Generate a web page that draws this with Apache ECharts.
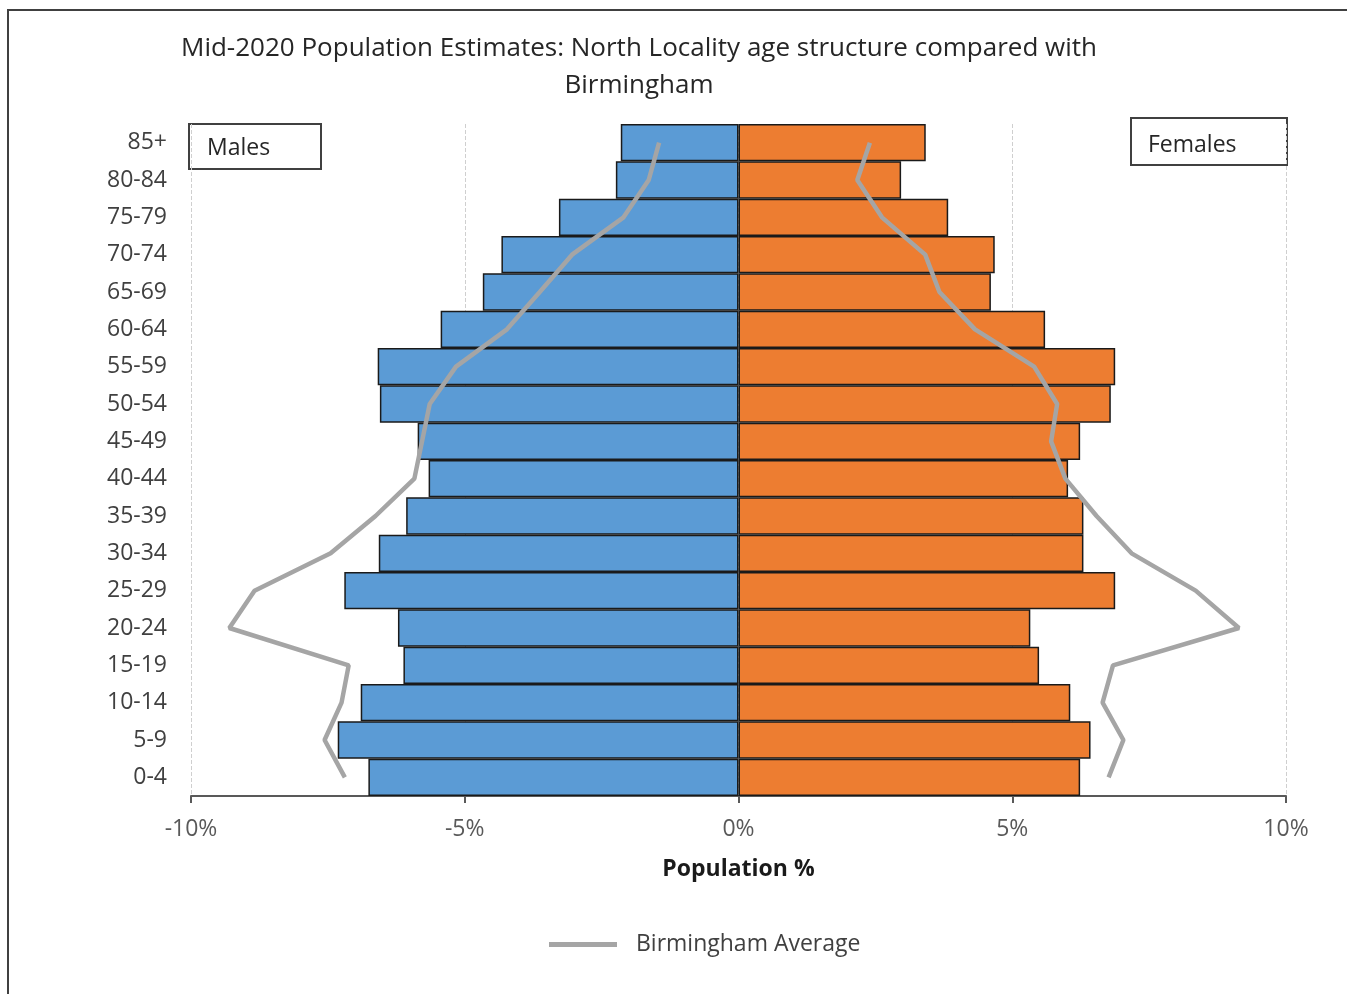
<!DOCTYPE html>
<html>
<head>
<meta charset="utf-8">
<title>North Locality age structure</title>
<script src="https://cdn.jsdelivr.net/npm/echarts@6/dist/echarts.min.js"></script>
<style>
  html, body { margin: 0; padding: 0; background: #fff; }
  #chart { width: 1347px; height: 994px; }
</style>
</head>
<body>
<div id="chart"></div>
<script>
// age bands, bottom to top
const ageBands = ['0-4', '5-9', '10-14', '15-19', '20-24', '25-29', '30-34', '35-39', '40-44',
  '45-49', '50-54', '55-59', '60-64', '65-69', '70-74', '75-79', '80-84', '85+'];
// North Locality, % of population (males shown as negative)
const northMales = [-6.76, -7.32, -6.90, -6.12, -6.22, -7.20, -6.57, -6.07, -5.66,
  -5.86, -6.55, -6.59, -5.44, -4.67, -4.33, -3.28, -2.24, -2.15];
const northFemales = [6.24, 6.43, 6.06, 5.49, 5.33, 6.88, 6.30, 6.30, 6.02,
  6.24, 6.80, 6.88, 5.60, 4.61, 4.68, 3.83, 2.97, 3.42];
// Birmingham average
const bhamMales = [-7.19, -7.56, -7.25, -7.12, -9.30, -8.84, -7.45, -6.63, -5.92,
  -5.78, -5.64, -5.16, -4.23, -3.63, -3.04, -2.10, -1.64, -1.45];
const bhamFemales = [6.76, 7.03, 6.65, 6.84, 9.14, 8.35, 7.18, 6.54, 5.97,
  5.71, 5.82, 5.40, 4.32, 3.67, 3.41, 2.62, 2.17, 2.40];
const xTicks = { min: -10, max: 10, step: 5 };

const FONT = '"Open Sans", "Noto Sans", sans-serif';

let myChart = echarts.init(document.getElementById('chart'));

let option = {
  backgroundColor: '#fff',
  animation: false,
  textStyle: { fontFamily: FONT },
  grid: { left: 191, right: 61, top: 124, bottom: 198 },
  legend: {
    data: ['Birmingham Average'],
    left: 544,
    top: 928,
    icon: 'rect',
    itemWidth: 68,
    itemHeight: 5,
    textStyle: { fontSize: 23, color: '#404040', fontFamily: FONT, padding: [0, 0, 10, 14] }
  },
  xAxis: {
    type: 'value',
    min: xTicks.min,
    max: xTicks.max,
    interval: xTicks.step,
    name: 'Population %',
    nameLocation: 'middle',
    nameGap: 62,
    nameTextStyle: { fontSize: 23, fontWeight: 'bold', color: '#1a1a1a', fontFamily: FONT },
    axisLine: { show: true, lineStyle: { color: '#595959', width: 2 } },
    axisTick: { show: true, length: 7, lineStyle: { color: '#595959', width: 2 } },
    axisLabel: {
      margin: 22,
      fontSize: 23,
      color: '#595959',
      formatter: v => v + '%'
    },
    splitLine: { show: true, lineStyle: { type: 'dashed', color: '#cfcfcf', width: 1 } }
  },
  yAxis: {
    type: 'category',
    data: ageBands,
    axisLine: { show: false },
    axisTick: { show: false },
    axisLabel: { margin: 24, fontSize: 23, color: '#404040' },
    splitLine: { show: false }
  },
  series: [
    {
      name: 'Males',
      type: 'bar',
      data: northMales,
      barWidth: '100%',
      barGap: '-100%',
      barCategoryGap: 0,
      itemStyle: { color: '#5b9bd5', borderColor: '#1a1a1a', borderWidth: 1.5 },
      z: 2
    },
    {
      name: 'Females',
      type: 'bar',
      data: northFemales,
      barWidth: '100%',
      barGap: '-100%',
      barCategoryGap: 0,
      itemStyle: { color: '#ed7d31', borderColor: '#1a1a1a', borderWidth: 1.5 },
      z: 2
    },
    {
      name: 'Birmingham Average',
      type: 'line',
      data: bhamMales,
      symbol: 'none',
      color: '#a5a5a5',
      lineStyle: { color: '#a5a5a5', width: 4.5 },
      z: 5
    },
    {
      name: 'Birmingham Average',
      type: 'line',
      data: bhamFemales,
      symbol: 'none',
      color: '#a5a5a5',
      lineStyle: { color: '#a5a5a5', width: 4.5 },
      z: 5
    }
  ],
  graphic: [
    // outer frame (top and left edges visible)
    {
      type: 'rect', silent: true, z: -1,
      shape: { x: 8, y: 10, width: 1400, height: 1100 },
      style: { fill: 'none', stroke: '#404040', lineWidth: 2 }
    },
    // title
    {
      type: 'text', x: 639, y: 47, silent: true,
      style: {
        text: 'Mid-2020 Population Estimates: North Locality age structure compared with\nBirmingham',
        textAlign: 'center', textVerticalAlign: 'top',
        fontSize: 26, fontFamily: FONT, fill: '#262626', lineHeight: 37,
        y: -17
      }
    },
    // Males box
    {
      type: 'group', silent: true, z: 10,
      children: [
        { type: 'rect', shape: { x: 189, y: 124, width: 132, height: 45 },
          style: { fill: '#fff', stroke: '#404040', lineWidth: 2 } },
        { type: 'text', x: 207, y: 148,
          style: { text: 'Males', fontSize: 23, fontFamily: FONT, fill: '#262626',
            textVerticalAlign: 'middle' } }
      ]
    },
    // Females box
    {
      type: 'group', silent: true, z: 10,
      children: [
        { type: 'rect', shape: { x: 1131, y: 118, width: 156, height: 47 },
          style: { fill: '#fff', stroke: '#404040', lineWidth: 2 } },
        { type: 'text', x: 1148, y: 145,
          style: { text: 'Females', fontSize: 23, fontFamily: FONT, fill: '#262626',
            textVerticalAlign: 'middle' } }
      ]
    }
  ]
};

myChart.setOption(option);
</script>
</body>
</html>
